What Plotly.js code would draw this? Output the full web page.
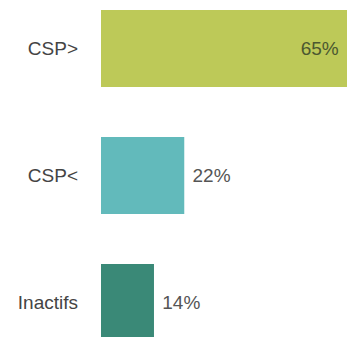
<!DOCTYPE html>
<html><head><meta charset="utf-8">
<script src="https://cdn.plot.ly/plotly-3.0.1.min.js"></script>
<style>html,body{margin:0;padding:0;background:#fff;}#chart{width:347px;height:337px;}</style>
</head><body><div id="chart"></div>
<script>
const categories = ["CSP>", "CSP<", "Inactifs"];
const values = [65, 22, 14];
const labels = ["65% ", " 22%", " 14%"];
const colors = ["#bdc958", "#62babb", "#3a8977"];
const textColors = ["#4b5830", "#555555", "#555555"];
const positions = ["inside", "outside", "outside"];

const trace = {
  type: "bar",
  orientation: "h",
  y: categories,
  x: values,
  text: labels,
  texttemplate: "%{text}",
  textposition: positions,
  insidetextanchor: "end",
  constraintext: "none",
  cliponaxis: false,
  textfont: {family: "Liberation Sans, Arial, sans-serif", size: 19, color: textColors},
  marker: {color: colors, line: {width: 0}},
  hoverinfo: "none"
};

const layout = {
  width: 347, height: 337,
  margin: {l: 101, r: 0, t: 0, b: 0},
  paper_bgcolor: "#ffffff",
  plot_bgcolor: "#ffffff",
  bargap: 0.394,
  showlegend: false,
  font: {family: "Liberation Sans, Arial, sans-serif", size: 19, color: "#444444"},
  xaxis: {range: [0, 65], visible: false, fixedrange: true},
  yaxis: {
    type: "category",
    range: [2.272, -0.382],
    showgrid: false, zeroline: false, showline: false,
    ticks: "", ticklabelstandoff: 22,
    tickfont: {family: "Liberation Sans, Arial, sans-serif", size: 19, color: "#444444"},
    fixedrange: true
  }
};

Plotly.newPlot("chart", [trace], layout, {displayModeBar: false, staticPlot: true});
</script>
</body></html>
